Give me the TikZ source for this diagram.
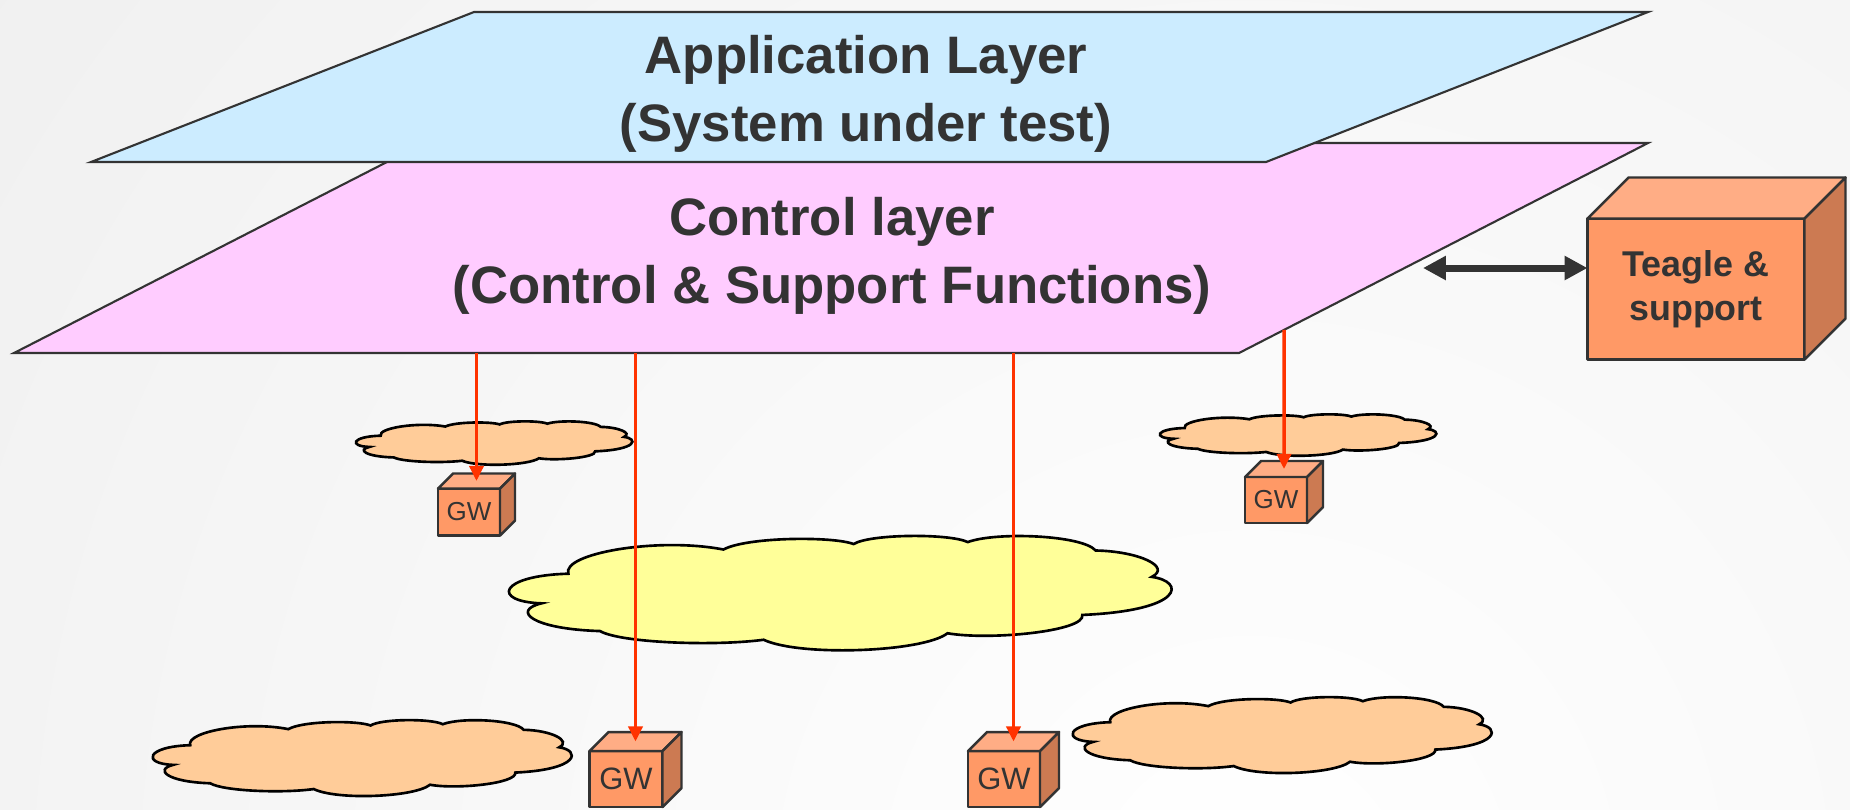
\documentclass[tikz,border=0pt]{standalone}
\usepackage{fontspec}
\setmainfont{Liberation Sans}
\usepackage{tikz}
\usetikzlibrary{positioning,arrows.meta,calc}

\definecolor{ink}      {HTML}{333333}
\definecolor{applayer} {HTML}{CCECFF}
\definecolor{ctrllayer}{HTML}{FFCCFF}
\definecolor{cubefront}{HTML}{FF9966}
\definecolor{cubetop}  {HTML}{FFAD85}
\definecolor{cubeside} {HTML}{CC7A52}
\definecolor{peach}    {HTML}{FFCC99}
\definecolor{lemon}    {HTML}{FFFF99}
\definecolor{signal}   {HTML}{FF3300}

% top and side faces of a box drawn behind node #1, depth #2
\newcommand\cubefaces[2]{%
  \draw[cubeedge,fill=cubetop] (#1.north west) -- ([shift={(#2,-#2)}]#1.north west)
    -- ([shift={(#2,-#2)}]#1.north east) -- (#1.north east) -- cycle;
  \draw[cubeedge,fill=cubeside] (#1.north east) -- ([shift={(#2,-#2)}]#1.north east)
    -- ([shift={(#2,-#2)}]#1.south east) -- (#1.south east) -- cycle;
  \coordinate (#1-top) at ([shift={(#2/2,-#2/2)}]#1.north);
}

% flat cloud: name, centre, half width, half height, fill
\newcommand\netcloud[5]{%
  \begin{scope}[shift={#2},xscale=#3,yscale=#4]
    \draw[cloudline,fill=#5] (-0.899,0.178)
      .. controls (-1.05,0.15) and (-1.03,-0.3) .. (-0.818,-0.333)
      .. controls (-0.84,-0.68) and (-0.55,-0.97) .. (-0.351,-0.75)
      .. controls (-0.28,-0.97) and (-0.02,-0.98) .. (0.041,-0.844)
      .. controls (0.09,-1.02) and (0.33,-1.03) .. (0.385,-0.878)
      .. controls (0.47,-1.06) and (0.73,-1.0) .. (0.770,-0.733)
      .. controls (0.90,-0.72) and (1.0,-0.45) .. (0.939,-0.278)
      .. controls (1.04,-0.2) and (1.04,0.3) .. (0.730,0.378)
      .. controls (0.74,0.66) and (0.45,0.82) .. (0.324,0.694)
      .. controls (0.25,1.02) and (-0.12,1.1) .. (-0.230,0.806)
      .. controls (-0.38,0.92) and (-0.66,0.86) .. (-0.723,0.656)
      .. controls (-0.93,0.62) and (-0.99,0.3) .. (-0.899,0.178)
      -- cycle;
    \coordinate (#1) at (0,0);
  \end{scope}}

\begin{document}
\begin{tikzpicture}[
  x=0.1mm, y=-0.1mm,
  layer/.style={draw=ink,line width=0.6pt},
  title/.style={text=ink,font={\fontsize{15}{19.5}\selectfont\bfseries},align=center},
  cloudline/.style={draw=black,line width=0.75pt,line join=miter},
  cubeedge/.style={draw=ink,line width=0.7pt,line join=round},
  gw/.style={cubeedge,fill=cubefront,text=ink,inner sep=0pt,outer sep=0pt,font={\fontsize{7.4}{8}\selectfont}},
  biggw/.style={gw,font={\fontsize{8.8}{9}\selectfont}},
  teaglebox/.style={gw,align=center,font={\fontsize{10.2}{12.6}\selectfont\bfseries}},
  feed/.style={draw=signal,line width=1pt,-{Triangle[length=4.3pt,width=4pt]}},
  link/.style={draw=ink,line width=2pt,{Triangle[length=6.5pt,width=6.5pt]}-{Triangle[length=6.5pt,width=6.5pt]}},
]

  % backdrop
  \useasboundingbox (0,0) rectangle (1850,809);
  \begin{scope}
    \clip (0,0) rectangle (1850,809);
    \shade[inner color=white,outer color=black!10] (1250,900) circle (2700);
  \end{scope}

  % networks
  \netcloud{netA}{(494,443)}{138.5}{22}{peach}
  \netcloud{netD}{(1298,435)}{138.5}{21}{peach}
  \netcloud{core}{(840,593)}{332}{58}{lemon}
  \netcloud{netB}{(362,758)}{210}{38.5}{peach}
  \netcloud{netC}{(1282,735)}{210}{38.5}{peach}

  % layers
  \draw[layer,fill=ctrllayer] (424,143) coordinate (ctrl-nw) -- (1648,143) coordinate (ctrl-ne)
    -- (1239,353) coordinate (ctrl-se) -- (14,353) coordinate (ctrl-sw) -- cycle;
  \draw[layer,fill=applayer] (474,12) -- (1648,12) -- (1266,162) -- (91,162) -- cycle;
  \node[title] (app) at (866,94) {Application Layer\\(System under test)};
  \node[title] (ctrl) at (832,256) {Control layer\\(Control \& Support Functions)};

  % gateways
  \node[gw,minimum width=6.2mm,minimum height=4.7mm] (gwA) at (469,512) {GW};
  \cubefaces{gwA}{15}
  \node[biggw,minimum width=7.3mm,minimum height=5.6mm] (gwB) at (626,779) {GW};
  \cubefaces{gwB}{19}
  \node[biggw,minimum width=7.2mm,minimum height=5.6mm] (gwC) at (1004,779) {GW};
  \cubefaces{gwC}{19}
  \node[gw,minimum width=6.2mm,minimum height=4.6mm] (gwD) at (1276,500) {GW};
  \cubefaces{gwD}{16}

  \node[teaglebox,minimum width=21.7mm,minimum height=14.1mm] (teagle) at (1696,289) {Teagle \&\\support};
  \cubefaces{teagle}{41}

  % control links
  \draw[feed] (gwA-top |- ctrl-sw) -- (gwA-top);
  \draw[feed] (gwB-top |- ctrl-sw) -- (gwB-top);
  \draw[feed] (gwC-top |- ctrl-sw) -- (gwC-top);
  \coordinate (gwD-up) at (gwD-top |- ctrl-ne);
  \draw[feed] (intersection of ctrl-se--ctrl-ne and gwD-top--gwD-up) -- (gwD-top);

  \coordinate (ctrl-link) at (1423,268);
  \draw[link] (ctrl-link) -- (ctrl-link -| teagle.west);

\end{tikzpicture}
\end{document}
